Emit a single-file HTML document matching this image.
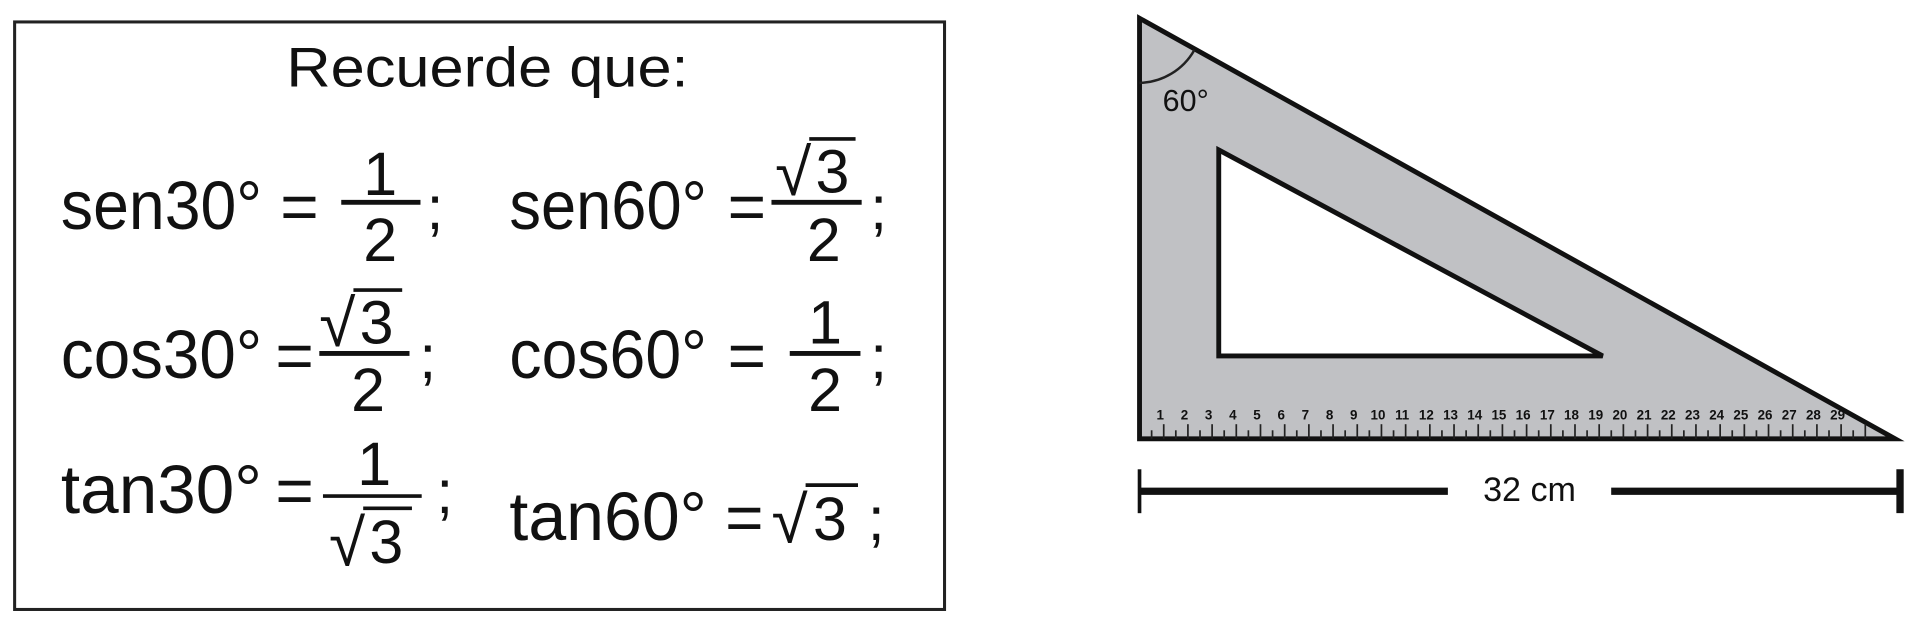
<!DOCTYPE html>
<html><head><meta charset="utf-8"><style>
html,body{margin:0;padding:0;background:#fff;width:1911px;height:618px;overflow:hidden}
svg{display:block}
text{font-family:"Liberation Sans","DejaVu Sans",sans-serif;fill:#111}
</style></head><body>
<svg id="s" width="1911" height="618" viewBox="0 0 1568 507" preserveAspectRatio="none">
<g>
<rect x="12" y="18" width="763" height="482" fill="#fff" stroke="#222" stroke-width="2.5"/>
<text x="400" y="71" font-size="46" text-anchor="middle" textLength="330" lengthAdjust="spacingAndGlyphs">Recuerde que:</text>
<!-- row 1 -->
<text x="50" y="188" font-size="56" textLength="165" lengthAdjust="spacingAndGlyphs">sen30°</text>
<text x="230" y="188" font-size="54">=</text>
<text x="312" y="160" font-size="50" text-anchor="middle">1</text>
<line x1="280" y1="166" x2="345" y2="166" stroke="#111" stroke-width="4"/>
<text x="312" y="214" font-size="50" text-anchor="middle">2</text>
<text x="350" y="188" font-size="50">;</text>
<text x="418" y="188" font-size="56" textLength="162" lengthAdjust="spacingAndGlyphs">sen60°</text>
<text x="597" y="188" font-size="54">=</text>
<text x="636" y="160" font-size="54">√</text>
<line x1="664" y1="114" x2="702" y2="114" stroke="#111" stroke-width="3"/>
<text x="683" y="158" font-size="50" text-anchor="middle">3</text>
<line x1="633" y1="166" x2="707" y2="166" stroke="#111" stroke-width="4"/>
<text x="676" y="214" font-size="50" text-anchor="middle">2</text>
<text x="714" y="188" font-size="50">;</text>
<!-- row 2 -->
<text x="50" y="310" font-size="56" textLength="165" lengthAdjust="spacingAndGlyphs">cos30°</text>
<text x="226" y="310" font-size="54">=</text>
<text x="262" y="284" font-size="54">√</text>
<line x1="290" y1="238" x2="330" y2="238" stroke="#111" stroke-width="3"/>
<text x="309" y="282" font-size="50" text-anchor="middle">3</text>
<line x1="262" y1="290" x2="336" y2="290" stroke="#111" stroke-width="4"/>
<text x="302" y="337" font-size="50" text-anchor="middle">2</text>
<text x="344" y="310" font-size="50">;</text>
<text x="418" y="310" font-size="56" textLength="162" lengthAdjust="spacingAndGlyphs">cos60°</text>
<text x="597" y="310" font-size="54">=</text>
<text x="677" y="282" font-size="50" text-anchor="middle">1</text>
<line x1="648" y1="290" x2="706" y2="290" stroke="#111" stroke-width="4"/>
<text x="677" y="337" font-size="50" text-anchor="middle">2</text>
<text x="714" y="310" font-size="50">;</text>
<!-- row 3 -->
<text x="50" y="421" font-size="56" textLength="165" lengthAdjust="spacingAndGlyphs">tan30°</text>
<text x="226" y="421" font-size="54">=</text>
<text x="307" y="398" font-size="50" text-anchor="middle">1</text>
<line x1="265" y1="407" x2="346" y2="407" stroke="#111" stroke-width="3"/>
<text x="270" y="464" font-size="54">√</text>
<line x1="298" y1="417" x2="338" y2="417" stroke="#111" stroke-width="3"/>
<text x="317" y="462" font-size="50" text-anchor="middle">3</text>
<text x="358" y="421" font-size="50">;</text>
<text x="418" y="443" font-size="56" textLength="162" lengthAdjust="spacingAndGlyphs">tan60°</text>
<text x="595" y="443" font-size="54">=</text>
<text x="633" y="445" font-size="54">√</text>
<line x1="661" y1="398" x2="704" y2="398" stroke="#111" stroke-width="3"/>
<text x="681" y="443" font-size="50" text-anchor="middle">3</text>
<text x="712" y="443" font-size="50">;</text>
</g>
<g>
<path d="M935 15 L935 360 L1555 360 Z M1000 123 L1315 292 L1000 292 Z" fill="#c0c1c4" fill-rule="evenodd" stroke="#111" stroke-width="4" stroke-linejoin="miter"/>
<path d="M935 68 A53 53 0 0 0 980 41" fill="none" stroke="#222" stroke-width="2"/>
<text x="954" y="91" font-size="25" font-family="Liberation Serif,serif">60°</text>
<g id="ruler"></g>
</g>
<g>
<line x1="935" y1="403" x2="1188" y2="403" stroke="#111" stroke-width="6"/>
<line x1="1322" y1="403" x2="1560" y2="403" stroke="#111" stroke-width="6"/>
<line x1="935" y1="385" x2="935" y2="421" stroke="#111" stroke-width="3"/>
<line x1="1559" y1="385" x2="1559" y2="421" stroke="#111" stroke-width="6"/>
<text x="1255" y="411" font-size="28" text-anchor="middle">32 cm</text>
</g>
</svg>
<script>
const cmLabels=[1,2,3,4,5,6,7,8,9,10,11,12,13,14,15,16,17,18,19,20,21,22,23,24,25,26,27,28,29];
const ns="http://www.w3.org/2000/svg";
const g=document.getElementById('ruler');
const x0=935, cm=19.85;
for(let i=1;i<=60;i++){
  const x=x0+i*cm/2;
  if(x>1535)break;
  const l=document.createElementNS(ns,'line');
  
  
  const h=(i%2==0)?12:7;
  l.setAttribute('x1',x);l.setAttribute('x2',x);
  l.setAttribute('y1',360-h);l.setAttribute('y2',360);
  l.setAttribute('stroke','#222');l.setAttribute('stroke-width','1.4');
  g.appendChild(l);
}
cmLabels.forEach(function(v){
  const t=document.createElementNS(ns,'text');
  
  
  t.setAttribute('x',x0+17+(v-1)*cm);
  t.setAttribute('y',344);
  t.setAttribute('font-size','11');
  t.setAttribute('font-weight','bold');
  t.setAttribute('text-anchor','middle');
  t.textContent=v;
  g.appendChild(t);
});
</script>
</body></html>
